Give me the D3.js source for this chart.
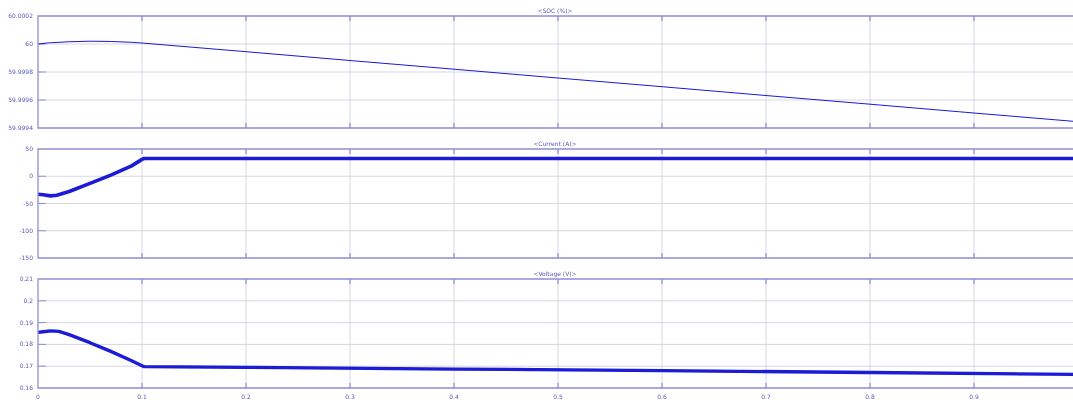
<!DOCTYPE html>
<html lang="en">
<head>
<meta charset="UTF-8">
<script src="https://d3js.org/d3.v7.min.js"></script>
<style>
  body { margin: 0; background: #fff; }
  svg { display: block; font-family: "DejaVu Sans", sans-serif; }
</style>
</head>
<body>
<div class="scope"></div>
<script>
// time ticks shared by all three panels
var timeTicks = [0, 0.1, 0.2, 0.3, 0.4, 0.5, 0.6, 0.7, 0.8, 0.9]

// panel 1 - battery SOC
var socTime = [0, 0.01, 0.03, 0.05, 0.07, 0.09, 0.1, 0.2, 0.3, 0.4, 0.5, 0.6, 0.7, 0.8, 0.9, 1.0]
var socValues = [60, 60.000008, 60.000016, 60.00002, 60.000018, 60.000012, 60.000007, 59.999945, 59.999882,
  59.99982, 59.999757, 59.999695, 59.999632, 59.99957, 59.999507, 59.999445]
var socTicks = [59.9994, 59.9996, 59.9998, 60, 60.0002]
var socLabels = ["59.9994", "59.9996", "59.9998", "60", "60.0002"]

// panel 2 - current
var curTime = [0, 0.005, 0.012, 0.018, 0.03, 0.05, 0.07, 0.09, 0.1, 0.102, 0.2, 0.4, 0.6, 0.8, 1.0]
var curValues = [-33, -34, -36, -35, -28, -13, 2, 19, 31, 32.5, 32.5, 32.5, 32.5, 32.5, 32.5]
var curTicks = [-150, -100, -50, 0, 50]
var curLabels = ["-150", "-100", "-50", "0", "50"]

// panel 3 - voltage
var voltTime = [0, 0.005, 0.012, 0.02, 0.03, 0.05, 0.07, 0.09, 0.1, 0.102, 0.2, 0.4, 0.6, 0.8, 1.0]
var voltValues = [0.1855, 0.1858, 0.1862, 0.186, 0.1845, 0.1808, 0.1768, 0.1725, 0.1702, 0.1698, 0.1695,
  0.1687, 0.168, 0.1671, 0.1662]
var voltTicks = [0.16, 0.17, 0.18, 0.19, 0.2, 0.21]
var voltLabels = ["0.16", "0.17", "0.18", "0.19", "0.2", "0.21"]

var width = 1073
var height = 403
var left = 38

var svg = d3.select(".scope").append("svg")
  .attr("width", width)
  .attr("height", height)

var defs = svg.append("defs")
defs.append("filter").attr("id", "soft")
  .append("feGaussianBlur").attr("stdDeviation", 0.45)

var root = svg.append("g").attr("filter", "url(#soft)")

var xScale = d3.scaleLinear().domain([0, 1]).range([left, 1078])

var panels = [
  { title: "<SOC (%)>", top: 16, bottom: 128, domain: [59.9994, 60.0002], t: socTime, v: socValues,
    ticks: socTicks, labels: socLabels, lw: 1 },
  { title: "<Current (A)>", top: 149, bottom: 258, domain: [-150, 50], t: curTime, v: curValues,
    ticks: curTicks, labels: curLabels, lw: 3.6 },
  { title: "<Voltage (V)>", top: 279, bottom: 388, domain: [0.16, 0.21], t: voltTime, v: voltValues,
    ticks: voltTicks, labels: voltLabels, lw: 3.3 }
]

var gridColor = "#d6d6e4"
var frameColor = "#8f8fd8"
var textColor = "#5a5ab4"

panels.forEach(function (p, i) {
  var yScale = d3.scaleLinear().domain(p.domain).range([p.bottom, p.top])
  var g = root.append("g")

  // grid lines
  g.selectAll(".vgrid").data(timeTicks.slice(1)).enter().append("line")
    .attr("x1", d => xScale(d)).attr("x2", d => xScale(d))
    .attr("y1", p.top).attr("y2", p.bottom)
    .attr("stroke", gridColor).attr("stroke-width", 1)
  g.selectAll(".hgrid").data(p.ticks.slice(1, -1)).enter().append("line")
    .attr("x1", left).attr("x2", width)
    .attr("y1", d => yScale(d)).attr("y2", d => yScale(d))
    .attr("stroke", gridColor).attr("stroke-width", 1)

  // small tick marks inside the frame
  g.selectAll(".xt").data(timeTicks.slice(1)).enter().append("path")
    .attr("d", d => "M" + xScale(d) + "," + p.top + "v5M" + xScale(d) + "," + p.bottom + "v-5")
    .attr("stroke", frameColor).attr("stroke-width", 1.2)
  g.selectAll(".yt").data(p.ticks.slice(1, -1)).enter().append("path")
    .attr("d", d => "M" + left + "," + yScale(d) + "h8")
    .attr("stroke", frameColor).attr("stroke-width", 1)

  // the signal
  var line = d3.line()
    .x(function (d, k) { return xScale(p.t[k]) })
    .y(function (d) { return yScale(d) })
  g.append("path")
    .datum(p.v)
    .attr("d", line)
    .attr("fill", "none")
    .attr("stroke", "#1a1ad6")
    .attr("stroke-width", p.lw)
    .attr("stroke-linejoin", "round")

  // frame
  g.append("path")
    .attr("d", "M" + width + "," + p.top + "H" + left + "V" + p.bottom + "H" + width)
    .attr("fill", "none").attr("stroke", frameColor).attr("stroke-width", 1.3)

  // y labels
  g.selectAll(".yl").data(p.ticks).enter().append("text")
    .attr("x", left - 5).attr("y", d => yScale(d) + 2)
    .attr("text-anchor", "end")
    .attr("font-size", 6)
    .attr("fill", textColor)
    .text(function (d, k) { return p.labels[k] })

  // title
  g.append("text")
    .attr("x", 555).attr("y", p.top - 3)
    .attr("text-anchor", "middle")
    .attr("font-size", 6)
    .attr("fill", textColor)
    .text(p.title)

  if (i === 2) {
    g.selectAll(".xl").data(timeTicks).enter().append("text")
      .attr("x", d => xScale(d)).attr("y", p.bottom + 11)
      .attr("text-anchor", "middle")
      .attr("font-size", 6)
      .attr("fill", textColor)
      .text(d => d3.format("")(d))
  }
})
</script>
</body>
</html>
